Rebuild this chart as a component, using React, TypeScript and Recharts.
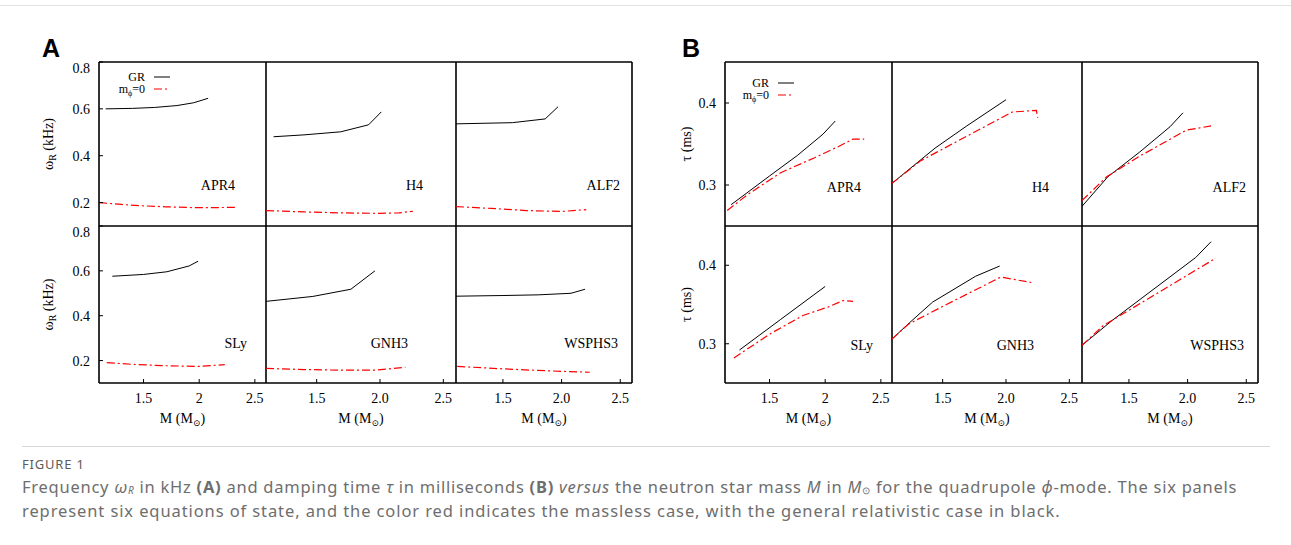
import React from "react";
import { Line, LineChart, XAxis, YAxis } from "recharts";

type Pt = [number, number];

// shared axes
const MASS_DOMAIN: [number, number] = [1.1, 2.6];
const MASS_TICKS = [1.5, 2, 2.5];
const OMEGA_DOMAIN: [number, number] = [0.1, 0.8];
const OMEGA_TICKS = [0.2, 0.4, 0.6, 0.8];
const TAU_DOMAIN: [number, number] = [0.25, 0.45];
const TAU_TICKS = [0.3, 0.4];

const EOS_NAMES = ["APR4", "H4", "ALF2", "SLy", "GNH3", "WSPHS3"];

// omega_R (kHz) vs M, GR (black) and m_phi = 0 (red)
const apr4WGr: Pt[] = [[1.16, 0.6], [1.4, 0.602], [1.6, 0.606], [1.8, 0.614], [1.95, 0.626], [2.08, 0.645]];
const apr4WM0: Pt[] = [[1.1, 0.2], [1.3, 0.192], [1.5, 0.186], [1.7, 0.182], [1.9, 0.179], [2.1, 0.178], [2.33, 0.18]];
const h4WGr: Pt[] = [[1.16, 0.481], [1.4, 0.489], [1.69, 0.502], [1.91, 0.532], [2.01, 0.587]];
const h4WM0: Pt[] = [[1.1, 0.166], [1.4, 0.16], [1.7, 0.156], [2.0, 0.154], [2.15, 0.156], [2.26, 0.163]];
const alf2WGr: Pt[] = [[1.1, 0.536], [1.58, 0.541], [1.86, 0.557], [1.97, 0.609]];
const alf2WM0: Pt[] = [[1.1, 0.183], [1.4, 0.175], [1.7, 0.166], [2.0, 0.162], [2.21, 0.17]];
const slyWGr: Pt[] = [[1.22, 0.576], [1.5, 0.584], [1.71, 0.596], [1.91, 0.622], [1.99, 0.643]];
const slyWM0: Pt[] = [[1.17, 0.191], [1.4, 0.183], [1.7, 0.177], [2.0, 0.174], [2.23, 0.182]];
const gnh3WGr: Pt[] = [[1.1, 0.464], [1.47, 0.486], [1.77, 0.518], [1.96, 0.6]];
const gnh3WM0: Pt[] = [[1.1, 0.165], [1.4, 0.16], [1.7, 0.157], [1.95, 0.157], [2.2, 0.17]];
const wsphs3WGr: Pt[] = [[1.1, 0.487], [1.5, 0.49], [1.8, 0.493], [2.08, 0.5], [2.2, 0.518]];
const wsphs3WM0: Pt[] = [[1.11, 0.174], [1.5, 0.163], [1.8, 0.156], [2.0, 0.152], [2.24, 0.148]];

// damping time tau (ms) vs M
const apr4TGr: Pt[] = [[1.155, 0.276], [1.5, 0.311], [1.75, 0.336], [1.98, 0.362], [2.09, 0.378]];
const apr4TM0: Pt[] = [[1.12, 0.269], [1.3, 0.288], [1.6, 0.315], [1.9, 0.333], [2.12, 0.347], [2.25, 0.356], [2.35, 0.356]];
const h4TGr: Pt[] = [[1.1, 0.302], [1.25, 0.321], [1.44, 0.345], [1.69, 0.372], [2.0, 0.404]];
const h4TM0: Pt[] = [[1.1, 0.302], [1.32, 0.329], [1.66, 0.357], [2.05, 0.389], [2.24, 0.391], [2.25, 0.382]];
const alf2TGr: Pt[] = [[1.1, 0.274], [1.32, 0.31], [1.59, 0.34], [1.85, 0.371], [1.96, 0.388]];
const alf2TM0: Pt[] = [[1.1, 0.281], [1.31, 0.31], [1.59, 0.335], [1.99, 0.367], [2.2, 0.372]];
const slyTGr: Pt[] = [[1.23, 0.292], [1.6, 0.331], [2.0, 0.373]];
const slyTM0: Pt[] = [[1.18, 0.282], [1.51, 0.313], [1.8, 0.336], [2.03, 0.347], [2.16, 0.355], [2.25, 0.354]];
const gnh3TGr: Pt[] = [[1.1, 0.306], [1.24, 0.327], [1.42, 0.353], [1.76, 0.386], [1.95, 0.399]];
const gnh3TM0: Pt[] = [[1.1, 0.306], [1.23, 0.325], [1.53, 0.35], [1.96, 0.385], [2.2, 0.378]];
const wsphs3TGr: Pt[] = [[1.1, 0.298], [1.36, 0.33], [2.07, 0.41], [2.2, 0.43]];
const wsphs3TM0: Pt[] = [[1.1, 0.298], [1.28, 0.323], [2.24, 0.409]];

const OMEGA_SERIES: [Pt[], Pt[]][] = [
  [apr4WGr, apr4WM0], [h4WGr, h4WM0], [alf2WGr, alf2WM0],
  [slyWGr, slyWM0], [gnh3WGr, gnh3WM0], [wsphs3WGr, wsphs3WM0],
];
const TAU_SERIES: [Pt[], Pt[]][] = [
  [apr4TGr, apr4TM0], [h4TGr, h4TM0], [alf2TGr, alf2TM0],
  [slyTGr, slyTM0], [gnh3TGr, gnh3TM0], [wsphs3TGr, wsphs3TM0],
];

// layout of the 3x2 grid (left block); right block is shifted
const COL_X = [99, 266, 456, 632];
const ROW_Y = [62, 226, 383];
const B_SHIFT = 626;

const SERIF = "'Liberation Serif', 'DejaVu Serif', serif";
const RED_DASH = "8 3 2 3";
const PAD = 2;

const axisLine = { stroke: "#000", strokeWidth: 1.6 };
const tickLine = { stroke: "#000", strokeWidth: 1 };
const tickFont = { fontSize: 14, fill: "#000", fontFamily: SERIF };

const toRows = (pts: Pt[]) => pts.map(([m, v]) => ({ m, v }));

type PanelProps = {
  x0: number; x1: number; y0: number; y1: number;
  gr: Pt[]; m0: Pt[];
  yDomain: [number, number]; yTicks: number[];
  showX: boolean; showY: boolean; longX: boolean;
};

function Panel({ x0, x1, y0, y1, gr, m0, yDomain, yTicks, showX, showY, longX }: PanelProps) {
  const w = x1 - x0;
  const h = y1 - y0;
  const yw = showY ? 40 : 0;
  const xh = showX ? 30 : 0;
  const fmtX = (v: number) => (longX ? v.toFixed(1) : String(v));
  return (
    <div style={{ position: "absolute", left: x0 - PAD - yw, top: y0 - PAD }}>
      <LineChart
        width={w + 2 * PAD + yw}
        height={h + 2 * PAD + xh}
        margin={{ top: PAD, right: PAD, bottom: PAD, left: PAD }}
      >
        <XAxis
          xAxisId="b" dataKey="m" type="number" orientation="bottom"
          domain={MASS_DOMAIN} allowDataOverflow ticks={MASS_TICKS}
          height={xh} tickSize={-4} tickMargin={14}
          tick={showX ? tickFont : false} tickFormatter={fmtX}
          axisLine={axisLine} tickLine={tickLine}
        />
        <XAxis
          xAxisId="t" type="number" orientation="top" mirror
          domain={MASS_DOMAIN} allowDataOverflow ticks={MASS_TICKS}
          tickSize={4} tick={false} axisLine={axisLine} tickLine={tickLine}
        />
        <YAxis
          yAxisId="l" type="number" orientation="left"
          domain={yDomain} allowDataOverflow ticks={yTicks}
          width={yw} tickSize={-4} tickMargin={13}
          tick={showY ? tickFont : false}
          axisLine={axisLine} tickLine={tickLine}
        />
        <YAxis
          yAxisId="r" type="number" orientation="right" mirror
          domain={yDomain} allowDataOverflow ticks={yTicks}
          tickSize={4} tick={false} axisLine={axisLine} tickLine={tickLine}
        />
        <Line
          xAxisId="b" yAxisId="l" data={toRows(gr)} dataKey="v" type="linear"
          stroke="#000" strokeWidth={1} dot={false} isAnimationActive={false}
        />
        <Line
          xAxisId="b" yAxisId="l" data={toRows(m0)} dataKey="v" type="linear"
          stroke="#ff0000" strokeWidth={1.2} strokeDasharray={RED_DASH}
          dot={false} isAnimationActive={false}
        />
      </LineChart>
    </div>
  );
}

function Block({ shift, series, yDomain, yTicks }: {
  shift: number; series: [Pt[], Pt[]][]; yDomain: [number, number]; yTicks: number[];
}) {
  return (
    <>
      {series.map(([gr, m0], i) => {
        const col = i % 3;
        const row = Math.floor(i / 3);
        return (
          <Panel
            key={i}
            x0={COL_X[col] + shift} x1={COL_X[col + 1] + shift}
            y0={ROW_Y[row]} y1={ROW_Y[row + 1]}
            gr={gr} m0={m0} yDomain={yDomain} yTicks={yTicks}
            showX={row === 1} showY={col === 0} longX={col > 0}
          />
        );
      })}
    </>
  );
}

// right edge of each EOS name, per panel
const NAME_RIGHT_A = [235, 423, 620, 247, 408, 618];
const NAME_Y = [190, 348];

function Annotations() {
  const massTitle = (cx: number, key: string) => (
    <text key={key} x={cx} y={423} textAnchor="middle" fontFamily={SERIF} fontSize={14}>
      M (M<tspan fontSize={9} dy={3}>⊙</tspan><tspan dy={-3}>)</tspan>
    </text>
  );
  const legend = (xr: number, y: number) => (
    <g>
      <text x={xr} y={y + 4} textAnchor="end" fontFamily={SERIF} fontSize={12}>GR</text>
      <line x1={xr + 9} x2={xr + 25} y1={y} y2={y} stroke="#000" strokeWidth={1} />
      <text x={xr} y={y + 16} textAnchor="end" fontFamily={SERIF} fontSize={12}>
        m<tspan fontSize={8} dy={3}>ϕ</tspan><tspan dy={-3}>=0</tspan>
      </text>
      <line x1={xr + 9} x2={xr + 25} y1={y + 12} y2={y + 12} stroke="#ff0000" strokeWidth={1.2} strokeDasharray={RED_DASH} />
    </g>
  );
  const rowMid = [(ROW_Y[0] + ROW_Y[1]) / 2, (ROW_Y[1] + ROW_Y[2]) / 2];
  return (
    <svg width={1291} height={460} style={{ position: "absolute", left: 0, top: 0, pointerEvents: "none" }}>
      <text x={42} y={57} fontFamily="'Liberation Sans', Arial, sans-serif" fontWeight="bold" fontSize={25}>A</text>
      <text x={42 + B_SHIFT + 14} y={57} fontFamily="'Liberation Sans', Arial, sans-serif" fontWeight="bold" fontSize={25}>B</text>

      {rowMid.map((cy, r) => (
        <text key={"wa" + r} transform={`translate(53 ${cy}) rotate(-90)`} textAnchor="middle" fontFamily={SERIF} fontSize={14}>
          ω<tspan fontSize={10} dy={3}>R</tspan><tspan dy={-3}> (kHz)</tspan>
        </text>
      ))}
      {rowMid.map((cy, r) => (
        <text key={"tb" + r} transform={`translate(691 ${cy}) rotate(-90)`} textAnchor="middle" fontFamily={SERIF} fontSize={14}>
          τ (ms)
        </text>
      ))}

      {[0, 1, 2].map((c) => massTitle((COL_X[c] + COL_X[c + 1]) / 2, "ma" + c))}
      {[0, 1, 2].map((c) => massTitle((COL_X[c] + COL_X[c + 1]) / 2 + B_SHIFT, "mb" + c))}

      {EOS_NAMES.map((name, i) => (
        <text key={"na" + i} x={NAME_RIGHT_A[i]} y={NAME_Y[Math.floor(i / 3)]} textAnchor="end" fontFamily={SERIF} fontSize={14}>
          {name}
        </text>
      ))}
      {EOS_NAMES.map((name, i) => (
        <text key={"nb" + i} x={NAME_RIGHT_A[i] + B_SHIFT} y={NAME_Y[Math.floor(i / 3)] + 2} textAnchor="end" fontFamily={SERIF} fontSize={14}>
          {name}
        </text>
      ))}

      {legend(145, 77)}
      {legend(769, 83)}
    </svg>
  );
}

function Caption() {
  const base: React.CSSProperties = {
    position: "absolute", left: 22, fontFamily: "'Noto Sans', 'Open Sans', sans-serif",
    whiteSpace: "nowrap",
  };
  const body: React.CSSProperties = {
    ...base, fontSize: 16.5, color: "#6e6e6e", letterSpacing: 0.75, lineHeight: "20px",
  };
  const sub: React.CSSProperties = { fontSize: 10, lineHeight: 0, verticalAlign: "-0.12em" };
  return (
    <>
      <div style={{ ...base, top: 455, fontSize: 13, color: "#5c5c5c", letterSpacing: 0.8 }}>FIGURE 1</div>
      <div style={{ ...body, top: 477 }}>
        Frequency <i>ω<span style={sub}>R</span></i> in kHz <b>(A)</b> and damping time <i>τ</i> in
        milliseconds <b>(B)</b> <i>versus</i> the neutron star mass <i>M</i> in <i>M</i>
        <span style={sub}>⊙</span> for the quadrupole <i>ϕ</i>-mode. The six panels
      </div>
      <div style={{ ...body, top: 501, letterSpacing: 0.9 }}>
        represent six equations of state, and the color red indicates the massless case, with the general
        relativistic case in black.
      </div>
    </>
  );
}

export default function App() {
  return (
    <div style={{ position: "absolute", left: 0, top: 0, width: 1291, height: 545, background: "#fff", overflow: "hidden" }}>
      <div style={{ position: "absolute", left: 0, right: 0, top: 5, borderTop: "1px solid #e2e2e2" }} />
      <Block shift={0} series={OMEGA_SERIES} yDomain={OMEGA_DOMAIN} yTicks={OMEGA_TICKS} />
      <Block shift={B_SHIFT} series={TAU_SERIES} yDomain={TAU_DOMAIN} yTicks={TAU_TICKS} />
      <Annotations />
      <div style={{ position: "absolute", left: 22, width: 1248, top: 446, borderTop: "1px solid #d6d6d6" }} />
      <Caption />
    </div>
  );
}
